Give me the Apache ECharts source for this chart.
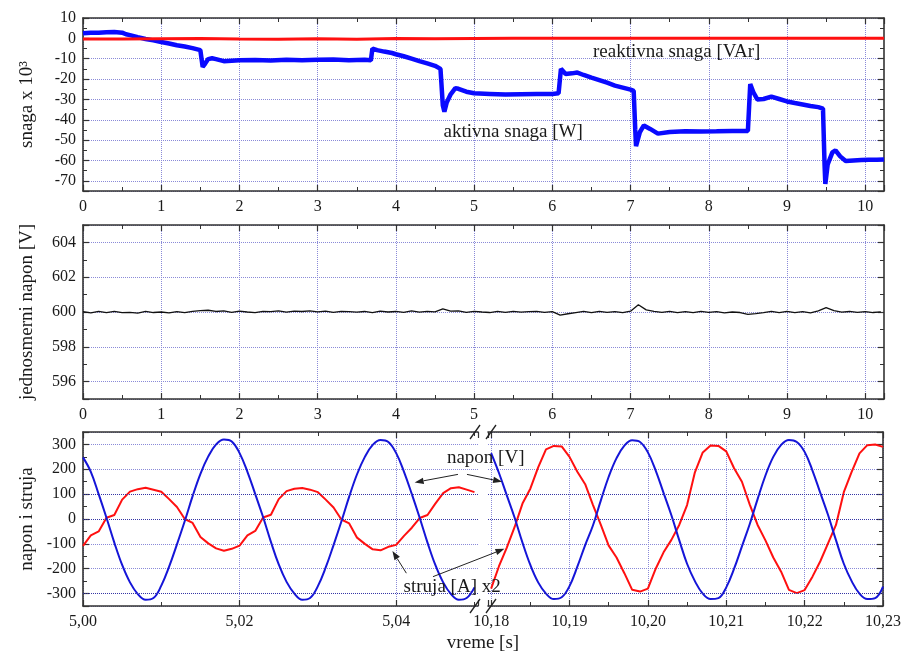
<!DOCTYPE html>
<html><head><meta charset="utf-8">
<script src="https://cdn.jsdelivr.net/npm/echarts@6/dist/echarts.min.js"></script>
<style>html,body{margin:0;padding:0;background:#fff}#c{width:904px;height:654px}</style>
</head><body><div id="c"></div>
<script>
// ---------- DATA ----------
// top panel: active power (x10^3 W) vs time [s]
const activeTime = [0.00,0.10,0.20,0.30,0.40,0.50,0.55,0.60,0.70,0.80,0.90,1.00,1.10,1.20,1.30,1.40,1.50,1.51,1.53,1.56,1.60,1.65,1.70,1.80,1.90,2.00,2.20,2.40,2.60,2.80,3.00,3.20,3.40,3.60,3.68,3.70,3.72,3.76,3.85,3.95,4.00,4.10,4.20,4.30,4.40,4.50,4.57,4.60,4.62,4.65,4.70,4.76,4.80,4.90,5.00,5.20,5.40,5.60,5.80,6.00,6.08,6.11,6.13,6.17,6.25,6.32,6.40,6.50,6.60,6.70,6.80,6.90,7.00,7.04,7.06,7.07,7.12,7.17,7.25,7.35,7.50,7.70,7.90,8.10,8.30,8.50,8.52,8.53,8.57,8.62,8.70,8.80,8.90,9.00,9.10,9.20,9.30,9.40,9.46,9.48,9.49,9.52,9.58,9.62,9.68,9.75,9.85,9.95,10.05,10.15,10.24];
const activePower = [2.5,2.8,2.7,3.0,3.1,2.8,2.0,1.6,0.6,-0.3,-1.0,-1.8,-2.5,-3.4,-4.0,-4.8,-5.8,-6.5,-14.0,-12.5,-10.2,-9.8,-10.2,-11.2,-11.0,-10.8,-10.6,-10.9,-10.5,-10.7,-10.5,-10.4,-10.7,-10.5,-10.8,-5.0,-4.3,-5.8,-6.5,-7.2,-7.8,-8.8,-10.0,-11.2,-12.3,-13.5,-15.0,-33.0,-36.0,-31.5,-27.5,-24.5,-24.8,-26.2,-27.0,-27.3,-27.6,-27.5,-27.4,-27.3,-27.0,-15.0,-14.5,-17.5,-17.2,-16.8,-18.0,-19.3,-20.5,-21.8,-23.2,-24.2,-25.2,-25.8,-45.0,-53.0,-46.0,-42.8,-44.5,-46.8,-46.0,-45.6,-45.8,-45.7,-45.5,-45.5,-46.0,-22.5,-26.5,-30.0,-29.8,-28.6,-29.8,-31.0,-31.8,-32.5,-33.2,-33.8,-34.5,-62.0,-71.5,-62.0,-56.0,-55.0,-58.0,-60.3,-60.0,-59.8,-59.6,-59.7,-59.5];
// top panel: reactive power (x10^3 VAr)
const reactiveTime = [0,0.5,1,1.5,2,2.5,3,3.5,4,4.5,5,5.5,6,6.5,7,7.5,8,8.5,9,9.5,10,10.24];
const reactivePower = [-0.3,-0.3,-0.2,-0.1,-0.3,-0.4,-0.2,-0.4,-0.1,-0.2,-0.1,0,0,0,0,0,0,0,0,0,0,0];
// middle panel: DC voltage [V], sampled every 0.1 s from 0
const dcStart = 0, dcStep = 0.1;
const dcVoltage = [600.02,599.95,600.04,599.97,600.03,599.96,599.98,599.94,600.03,599.97,
600.00,599.95,600.02,599.97,600.04,600.08,600.10,600.03,600.07,599.98,
600.05,600.00,599.96,600.04,600.02,600.06,599.99,600.05,600.03,600.07,
600.01,600.05,599.98,600.04,600.02,599.99,600.03,599.97,600.05,600.00,
600.03,599.98,600.06,599.99,600.04,600.01,600.18,600.05,600.07,599.98,
600.04,600.00,599.97,600.03,599.98,600.04,599.99,600.02,600.04,599.98,
600.02,599.82,599.90,599.97,600.03,599.96,600.04,599.98,600.02,599.97,
600.05,600.42,600.12,600.04,599.98,600.03,599.97,600.02,599.96,600.03,
599.98,600.02,599.95,600.00,599.97,599.86,599.91,599.97,600.04,599.96,
600.03,599.97,600.02,599.95,600.06,600.25,600.08,599.99,600.03,599.98,
600.02,599.97,600.01];
// bottom panel: waveforms sampled every 1 ms
const wfStep = 0.001;
const leftStart = 5.000, rightStart = 10.180;
const voltageLeft = [248,190,100,5,-95,-185,-255,-302,-325,-318,-268,-192,-102,-8,92,182,252,300,320,312,265,190,100,8,-92,-183,-253,-300,-325,-318,-270,-195,-105,-10,90,180,250,298,318,310,265,190,100,5,-95,-185,-255,-302,-325,-318,-275];
const currentLeft = [-108,-66,-50,5,16,78,110,120,126,118,110,80,48,0,-16,-72,-98,-118,-128,-120,-107,-66,-48,6,17,80,112,122,125,118,108,78,46,-2,-18,-75,-100,-122,-126,-112,-104,-68,-35,4,16,62,104,124,128,118,108];
const voltageRight = [265,185,95,5,-95,-185,-255,-300,-322,-315,-270,-192,-105,-25,75,170,245,295,317,310,268,195,105,15,-85,-180,-250,-300,-322,-318,-275,-200,-110,-20,80,175,250,298,318,310,270,195,105,15,-85,-180,-250,-300,-322,-318,-272];
const currentRight = [-280,-190,-115,-32,62,122,208,280,294,292,250,190,140,56,-24,-107,-155,-218,-285,-292,-280,-200,-134,-84,-24,56,188,268,296,294,272,204,150,58,-24,-86,-155,-212,-285,-298,-286,-232,-170,-97,-24,108,190,264,297,300,290];
// darker reference lines in the bottom panel
const strongLevels = [100, 0, -300];
// axis ranges
const leftMax = 5.05045, rightMin = 10.1796, rightMax = 10.23;

// ---------- BUILD ----------
const pairs = (xs, ys) => ys.map((v, i) => [xs[i], v]);
const sampled = (start, step, ys) => ys.map((v, i) => [+(start + i * step).toFixed(4), v]);

const FONT = 'Liberation Serif';
const AXC = '#333';
const TXT = '#1a1a1a';
const BLUE = '#0a0aff';
const RED = '#ff1010';
const gridLine = () => ({show: true, lineStyle: {color: '#8a8ad8', type: 'dotted', width: 1}});
const tick = () => ({show: true, inside: true, length: 6, lineStyle: {color: AXC, width: 1.2}});
const minor = n => ({show: true, splitNumber: n, length: 4, lineStyle: {color: AXC, width: 1}});
const line = () => ({show: true, onZero: false, lineStyle: {color: AXC, width: 1.6}});
const lbl = extra => Object.assign({show: true, fontFamily: FONT, fontSize: 16, color: TXT, margin: 8}, extra);

function xPair(g, scale, labelExtra, splitExtra) {
  const base = Object.assign({gridIndex: g, type: 'value'}, scale);
  return [
    Object.assign({}, base, {position: 'bottom', axisLine: line(), axisTick: tick(), minorTick: minor(2),
      splitLine: Object.assign(gridLine(), splitExtra || {}), axisLabel: lbl(labelExtra)}),
    Object.assign({}, base, {position: 'top', axisLine: line(), axisTick: tick(), minorTick: minor(2), splitLine: {show: false}, axisLabel: {show: false}})
  ];
}
function yMain(g, scale, name, pos, showLbl) {
  return Object.assign({gridIndex: g, type: 'value', position: pos || 'left', axisLine: line(), axisTick: tick(), minorTick: minor(2),
    splitLine: showLbl === false ? {show: false} : gridLine(),
    axisLabel: showLbl === false ? {show: false} : lbl({margin: 7, showMinLabel: false, showMaxLabel: scale.max === 10}),
    name: name || '', nameLocation: 'middle', nameGap: 46,
    nameTextStyle: {fontFamily: FONT, fontSize: 19, color: TXT}}, scale);
}

const sTop = {min: 0, max: 10.24, interval: 1};
const intLbl = {showMaxLabel: false, formatter: v => String(Math.round(v))};
const comma = v => v.toFixed(2).replace('.', ',');

const xAxes = [].concat(
  xPair(0, sTop, intLbl, {showMaxLine: false}),
  xPair(1, sTop, intLbl, {showMaxLine: false}),
  xPair(2, {min: leftStart, max: leftMax, interval: 0.02}, {showMaxLabel: false, formatter: comma}, {showMaxLine: false}),
  xPair(3, {min: rightMin, max: rightMax, splitNumber: 5}, {showMinLabel: false, formatter: comma}, {showMinLine: false})
);
const yAxes = [
  yMain(0, {min: -75, max: 10, splitNumber: 8}, 'snaga x 10³'),
  yMain(0, {min: -75, max: 10, splitNumber: 8}, '', 'right', false),
  yMain(1, {min: 595, max: 605, splitNumber: 5}, 'jednosmerni napon [V]'),
  yMain(1, {min: 595, max: 605, splitNumber: 5}, '', 'right', false),
  yMain(2, {min: -350, max: 350, splitNumber: 7}, 'napon i struja'),
  yMain(3, {min: -350, max: 350, splitNumber: 7}, '', 'right', false)
];
yAxes[5].splitLine = gridLine();

const ser = (name, x, y, data, color, w, smooth) => ({name, type: 'line', xAxisIndex: x, yAxisIndex: y, data,
  showSymbol: false, symbol: 'none', smooth: smooth || false, lineStyle: {color, width: w}, itemStyle: {color}, z: 3, animation: false});
const strongMark = () => ({silent: true, symbol: 'none', label: {show: false}, animation: false,
  lineStyle: {color: '#3535a5', type: 'dotted', width: 1}, emphasis: {disabled: true},
  data: strongLevels.map(v => ({yAxis: v}))});

const series = [
  ser('aktivna snaga', 0, 0, pairs(activeTime, activePower), BLUE, 4.5),
  ser('reaktivna snaga', 0, 0, pairs(reactiveTime, reactivePower), RED, 3),
  ser('jednosmerni napon', 2, 2, sampled(dcStart, dcStep, dcVoltage), '#111', 1.3),
  ser('struja L', 4, 4, sampled(leftStart, wfStep, currentLeft), RED, 2),
  ser('napon L', 4, 4, sampled(leftStart, wfStep, voltageLeft), '#1515d8', 2, 0.4),
  ser('struja R', 6, 5, sampled(rightStart, wfStep, currentRight), RED, 2),
  ser('napon R', 6, 5, sampled(rightStart, wfStep, voltageRight), '#1515d8', 2, 0.4)
];
series[3].markLine = strongMark();
series[5].markLine = strongMark();

const option = {
  animation: false,
  backgroundColor: '#fff',
  textStyle: {fontFamily: FONT},
  grid: [
    {left: 83, top: 18, width: 801, height: 173},
    {left: 83, top: 225, width: 801, height: 174},
    {left: 83, top: 432, width: 395, height: 174},
    {left: 488, top: 432, width: 396, height: 174}
  ],
  xAxis: xAxes,
  yAxis: yAxes,
  series
};

const chart = echarts.init(document.getElementById('c'), null, {renderer: 'canvas'});
chart.setOption(option);

// ---------- ANNOTATIONS (positioned through the axes) ----------
const P = (si, xy) => chart.convertToPixel({seriesIndex: si}, xy);
const tfont = '19px "' + FONT + '"';
const texts = [
  {s: 0, at: [7.59, -6.5], t: 'reaktivna snaga [VAr]'},
  {s: 0, at: [5.50, -45.8], t: 'aktivna snaga [W]'},
  {s: 3, at: [5.05143, 245], t: 'napon [V]'},
  {s: 3, at: [5.04715, -273], t: 'struja [A] x2'}
];
const arrows = [
  {a: [3, [5.04789, 179.5]], b: [3, [5.04236, 147]]},
  {a: [3, [5.04904, 179.5]], b: [5, [10.1814, 150]]},
  {a: [3, [5.0413, -218]], b: [3, [5.03952, -128.5]]},
  {a: [3, [5.0447, -232]], b: [5, [10.1817, -120]]}
];
const g = [];
texts.forEach(o => { const p = P(o.s, o.at);
  g.push({type: 'text', x: p[0], y: p[1], z: 50, style: {text: o.t, font: tfont, fill: TXT, align: 'center', verticalAlign: 'middle'}}); });
arrows.forEach(o => { const A = P(o.a[0], o.a[1]), B = P(o.b[0], o.b[1]);
  const dx = B[0] - A[0], dy = B[1] - A[1], L = Math.hypot(dx, dy), ux = dx / L, uy = dy / L;
  const hl = 9, hw = 3.2, bx = B[0] - ux * hl, by = B[1] - uy * hl;
  g.push({type: 'line', z: 50, shape: {x1: A[0], y1: A[1], x2: bx, y2: by}, style: {stroke: '#222', lineWidth: 1}});
  g.push({type: 'polygon', z: 50, shape: {points: [[B[0], B[1]], [bx - uy * hw, by + ux * hw], [bx + uy * hw, by - ux * hw]]}, style: {fill: '#222'}});
});
// axis-break marks
const xl = P(3, [leftMax, 0])[0], xr = P(5, [rightMin, 0])[0];
const yt = P(3, [leftStart, 350])[1], yb = P(3, [leftStart, -350])[1];
[xl - 3, xr + 3].forEach(cx => [yt, yb].forEach(cy => {
  g.push({type: 'line', z: 60, shape: {x1: cx - 5, y1: cy + 7, x2: cx + 5, y2: cy - 7}, style: {stroke: '#222', lineWidth: 1.3}});
}));
// common x-axis title
const xc = (P(3, [leftStart, 0])[0] + P(5, [rightMax, 0])[0]) / 2;
g.push({type: 'text', x: xc, y: yb + 37, z: 50, style: {text: 'vreme [s]', font: tfont, fill: TXT, align: 'center', verticalAlign: 'middle'}});
chart.setOption({graphic: g});
</script></body></html>
